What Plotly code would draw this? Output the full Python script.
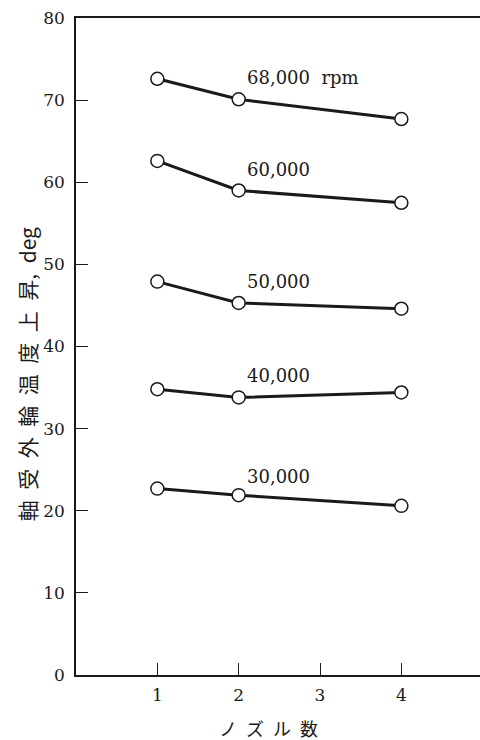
import plotly.graph_objects as go

nozzles = [1, 2, 4]
speed_labels = ["68,000  rpm", "60,000", "50,000", "40,000", "30,000"]
temp_rise = [
    [72.6, 70.1, 67.7],
    [62.6, 59.0, 57.5],
    [47.9, 45.3, 44.6],
    [34.8, 33.8, 34.4],
    [22.7, 21.9, 20.6],
]
label_y = [72.7, 61.5, 47.9, 36.5, 24.2]
x_ticks = [1, 2, 3, 4]
y_ticks = [0, 10, 20, 30, 40, 50, 60, 70, 80]

ink = "#1a1a1a"
fig = go.Figure()
for vals in temp_rise:
    fig.add_trace(go.Scatter(
        x=nozzles, y=vals, mode="lines+markers",
        line=dict(color=ink, width=3),
        marker=dict(symbol="circle", size=13, color="white",
                    line=dict(color=ink, width=1.5)),
        showlegend=False, hoverinfo="skip"))

for lab, ly in zip(speed_labels, label_y):
    fig.add_annotation(x=2.08, y=ly, xref="x", yref="y", text=lab,
                       showarrow=False, xanchor="left", yanchor="middle",
                       font=dict(family="DejaVu Serif", size=18, color=ink))

fig.add_annotation(x=-0.121, y=0.458, xref="paper", yref="paper",
                   text="軸\u2002受\u2002外\u2002輪\u2002温\u2002度\u2002上\u2002昇,\u2002deg",
                   textangle=-90, showarrow=False, xanchor="center", yanchor="middle",
                   font=dict(family="Noto Sans CJK JP", size=21, color=ink))
fig.add_annotation(x=2.37, y=-0.081, xref="x", yref="paper",
                   text="ノ\u2002ズ\u2002ル\u2002数",
                   showarrow=False, xanchor="center", yanchor="middle",
                   font=dict(family="Noto Sans CJK JP", size=18, color=ink))

fig.update_layout(
    width=480, height=740,
    margin=dict(l=76, r=0, t=18, b=65),
    paper_bgcolor="white", plot_bgcolor="white",
    xaxis=dict(range=[0, 4.967], tickvals=x_ticks, ticks="inside", ticklen=12,
               tickwidth=1.3, tickcolor=ink, showline=True, linecolor=ink,
               linewidth=1.5, mirror=True, showgrid=False, zeroline=False,
               ticklabelstandoff=4,
               tickfont=dict(family="DejaVu Serif", size=17, color=ink)),
    yaxis=dict(range=[0, 80], tickvals=y_ticks, ticks="inside", ticklen=12,
               tickwidth=1.3, tickcolor=ink, showline=True, linecolor=ink,
               linewidth=1.5, showgrid=False, zeroline=False,
               ticklabelstandoff=6,
               tickfont=dict(family="DejaVu Serif", size=17, color=ink)),
)
fig.write_html("out.html")
